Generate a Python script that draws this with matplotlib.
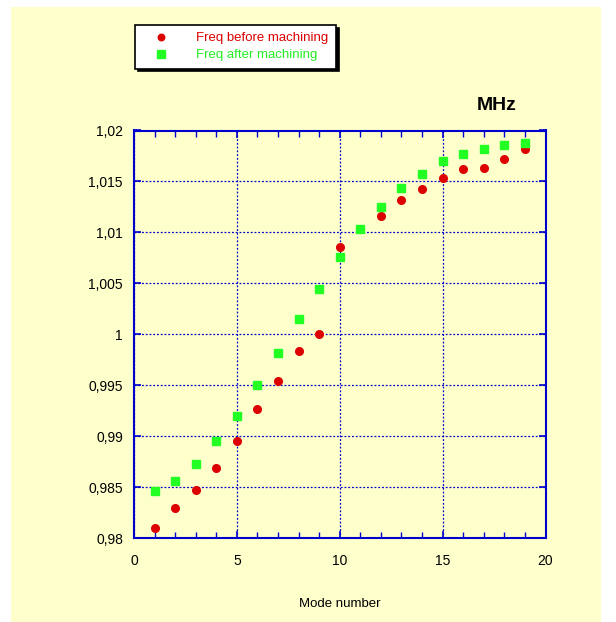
import matplotlib.pyplot as plt
from matplotlib.patches import Rectangle
from matplotlib.ticker import FuncFormatter, MultipleLocator

plt.rcParams['font.family'] = ['Liberation Sans', 'DejaVu Sans']

modes = list(range(1, 20))
freq_before = [0.9810, 0.9830, 0.9847, 0.9869, 0.9895, 0.9927, 0.9954, 0.9984, 1.0000, 1.0086,
               1.0103, 1.0116, 1.0132, 1.0143, 1.0153, 1.0162, 1.0163, 1.0172, 1.0182]
freq_after = [0.9846, 0.9856, 0.9873, 0.9895, 0.9920, 0.9950, 0.9982, 1.0015, 1.0045, 1.0076,
              1.0103, 1.0125, 1.0144, 1.0157, 1.0170, 1.0177, 1.0182, 1.0186, 1.0188]

bg = '#FFFFCC'
blue = '#0000CC'

fig = plt.figure(figsize=(6.16, 6.22), dpi=100)
fig.patch.set_facecolor('white')
fig.add_artist(Rectangle((11 / 616, 0), 590 / 616, 1 - 7 / 622, transform=fig.transFigure,
                         facecolor=bg, edgecolor='none', zorder=-10))

ax = fig.add_axes([134 / 616, 1 - 538.3 / 622, 411.5 / 616, 407.8 / 622])
ax.set_facecolor(bg)

ax.plot(modes, freq_before, 'o', color='#DD0000', mec='#DD0000', ms=5.5,
        label='Freq before machining', zorder=3)
ax.plot(modes, freq_after, 's', color='#22FF22', mec='#22FF22', ms=6,
        label='Freq after machining', zorder=4)

ax.set_xlim(0, 20)
ax.set_ylim(0.98, 1.02)
ax.xaxis.set_major_locator(MultipleLocator(5))
ax.xaxis.set_minor_locator(MultipleLocator(1))
ax.yaxis.set_major_locator(MultipleLocator(0.005))

def comma(v, pos):
    s = ('%.3f' % v).rstrip('0').rstrip('.')
    return s.replace('.', ',')

ax.yaxis.set_major_formatter(FuncFormatter(comma))

ax.grid(True, which='major', color=blue, linestyle=(0, (1.5, 1.5)), linewidth=0.9)
for sp in ax.spines.values():
    sp.set_color(blue)
    sp.set_linewidth(1.5)
ax.tick_params(which='both', direction='in', color=blue, top=True, right=True,
               labelsize=10, labelcolor='black')
ax.tick_params(axis='x', pad=11)
ax.tick_params(axis='y', pad=8)
ax.tick_params(which='major', length=5, width=1.2)
ax.tick_params(which='minor', length=4, width=1)

ax.set_xlabel('Mode number', fontsize=9.5, labelpad=22)
fig.text(497 / 616, 1 - 106 / 622, 'MHz', fontsize=14, fontweight='bold', ha='center', va='center')

leg = fig.legend(loc='upper left', bbox_to_anchor=(135 / 616, 1 - 25 / 622), fontsize=9.5,
                 frameon=True, fancybox=False, shadow={'color': 'black', 'alpha': 1},
                 edgecolor='black', framealpha=1, borderpad=0.55, handletextpad=1.3,
                 labelspacing=0.35, borderaxespad=0, handlelength=2.8, markerscale=0.85)
leg.get_frame().set_linewidth(1.2)
for txt, c in zip(leg.get_texts(), ['#DD0000', '#22EE22']):
    txt.set_color(c)

fig.savefig('out.png', dpi=100)
